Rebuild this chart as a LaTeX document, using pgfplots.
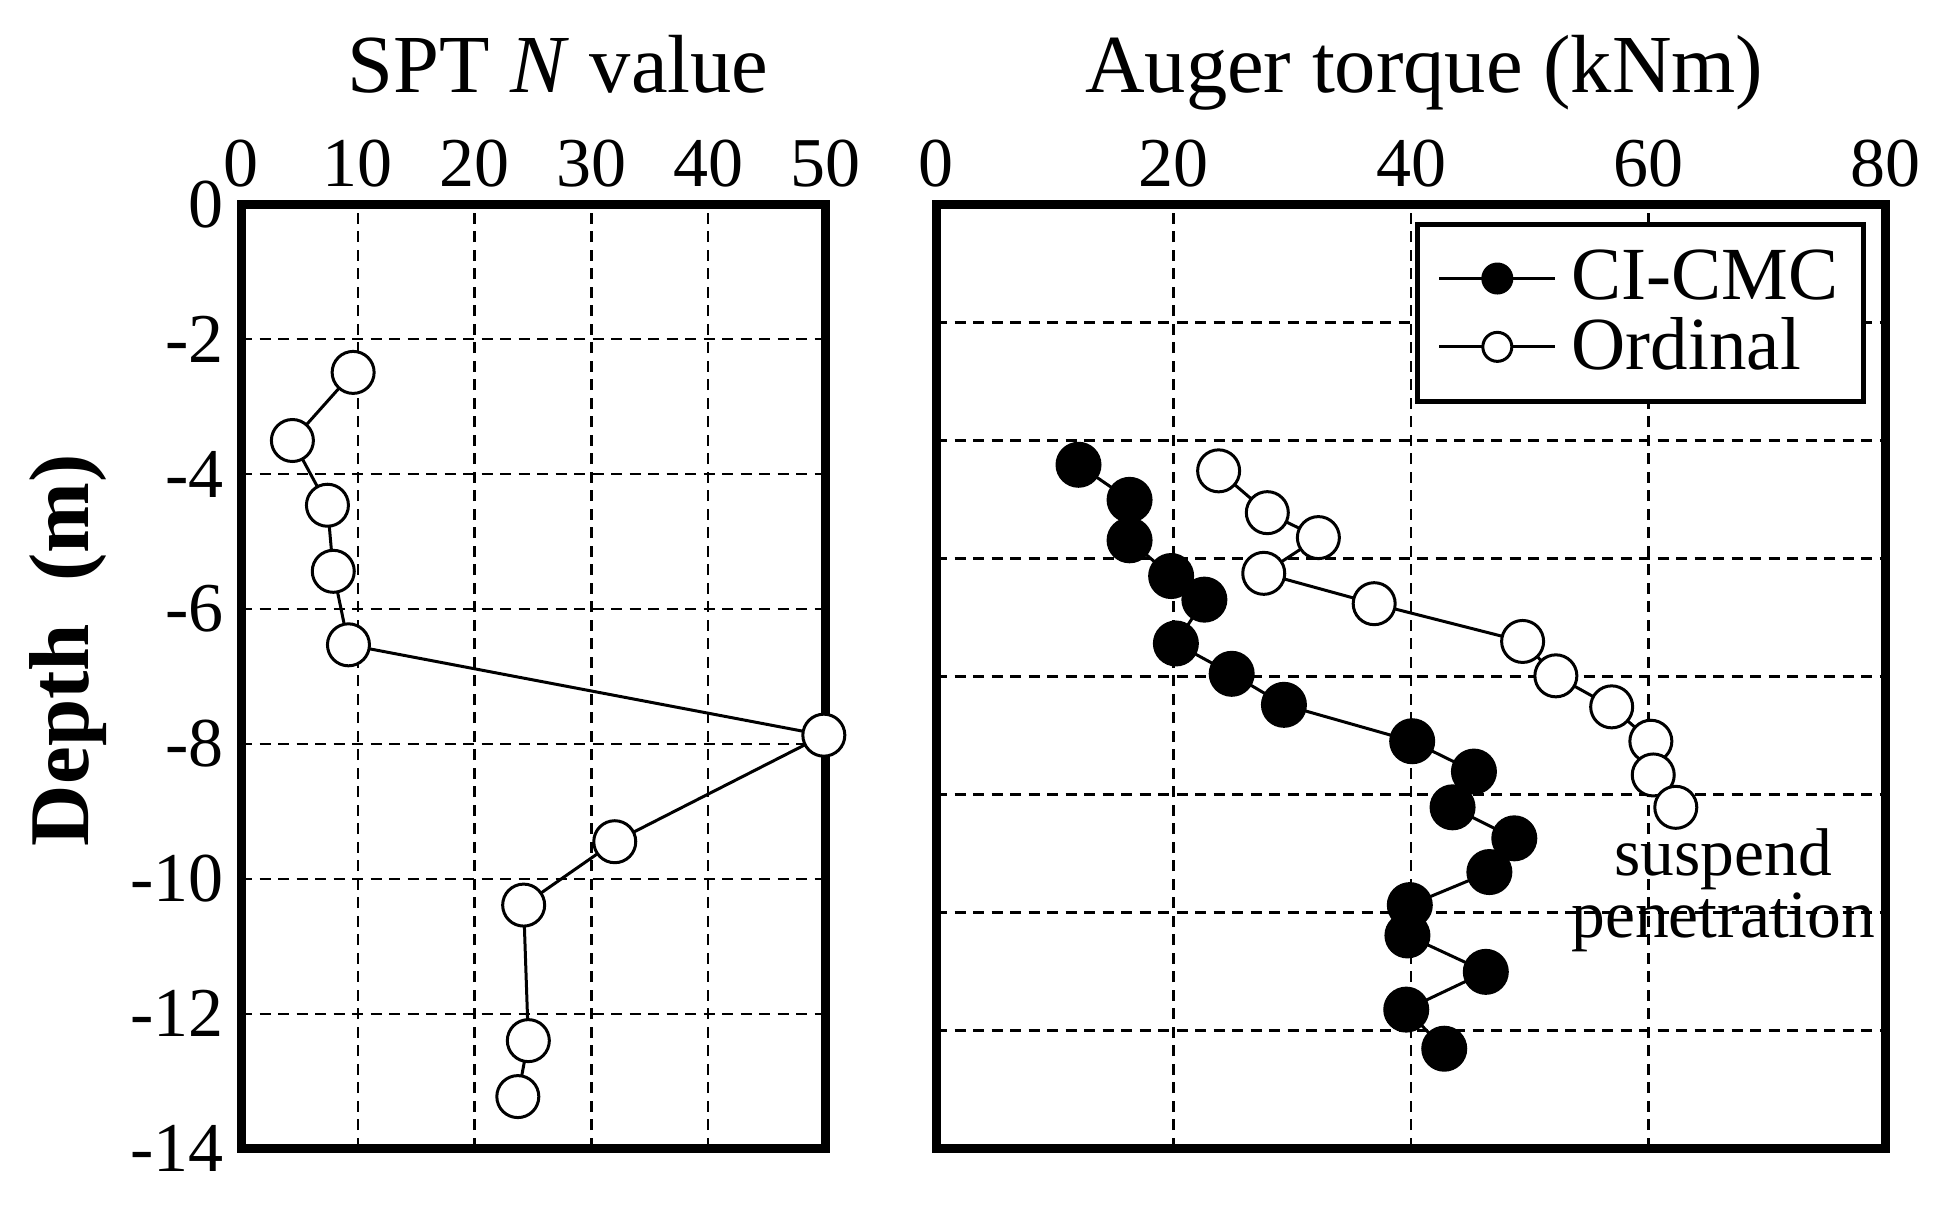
\documentclass[border=0pt]{standalone}
\usepackage{fontspec}
\setmainfont{Liberation Serif}
\usepackage{pgfplots}
\pgfplotsset{compat=1.18}

\begin{document}
\begin{tikzpicture}
\path[use as bounding box] (0,0) rectangle (387.2pt,244pt);
\pgfplotsset{
  depthax/.style={
    scale only axis, clip=false,
    height=188.8pt,
    ymin=-14, ymax=0,
    axis line style={line width=1.8pt, line join=miter},
    major tick length=0pt,
    xticklabel pos=upper,
    grid=major,
    major grid style={line width=0.45pt, black, dash pattern=on 2.2pt off 1.5pt},
    ticklabel style={font=\fontsize{14}{16}\selectfont},
    title style={font=\fontsize{16.5}{19}\selectfont, anchor=base},
    legend image code/.code={\draw[##1, mark size=2.9pt, mark repeat=2, mark phase=2]
      plot coordinates {(0pt,0pt) (11.6pt,0pt) (23.2pt,0pt)};},
  },
}
% SPT N value
\begin{axis}[depthax,
  at={(48.2pt,14.3pt)}, anchor=south west,
  width=116.8pt,
  xmin=0, xmax=50,
  xtick={0,10,20,30,40,50},
  xticklabels={0,10,20,30,40,50},
  ytick={-14,-12,-10,-8,-6,-4,-2,0},
  yticklabels={-14,-12,-10,-8,-6,-4,-2,0},
  title={SPT \textit{N} value},
  title style={at={(axis description cs:0.543,1)}, yshift=16.4pt},
  ylabel={\textbf{Depth\ \ (m)}},
  ylabel style={at={(axis description cs:-0.296,0.528)}, anchor=center,
    font=\fontsize{17}{20}\selectfont},
]
\addplot[black, line width=0.6pt, mark=*, mark size=4.2pt, mark options={fill=white}]
  coordinates {
  (9.6,-2.49) (4.4,-3.5) (7.4,-4.46) (7.9,-5.44) (9.2,-6.53)
  (49.9,-7.87) (32.0,-9.45) (24.2,-10.39) (24.6,-12.4) (23.7,-13.23)
};
\end{axis}
% Auger torque
\begin{axis}[depthax,
  at={(187.2pt,14.3pt)}, anchor=south west,
  width=190pt,
  xmin=0, xmax=80,
  xtick={0,20,40,60,80},
  xticklabels={0,20,40,60,80},
  ytick={-12.25,-10.5,-8.75,-7,-5.25,-3.5,-1.75},
  yticklabels={},
  title={Auger torque (kNm)},
  title style={at={(axis description cs:0.514,1)}, yshift=16.4pt},
  legend style={at={(axis description cs:0.979,0.981)}, anchor=north east,
    draw=black, line width=1pt, font=\fontsize{15}{16}\selectfont,
    inner xsep=4pt, inner ysep=4pt, row sep=0pt,
    nodes={inner sep=1pt}},
  legend cell align=left,
]
\addplot[black, line width=0.6pt, mark=*, mark size=4.3pt, mark options={fill=black}]
  coordinates {
  (12.0,-3.86) (16.3,-4.38) (16.3,-4.98) (19.8,-5.51) (22.6,-5.86)
  (20.2,-6.51) (24.9,-6.96) (29.3,-7.42) (40.1,-7.96) (45.3,-8.41)
  (43.5,-8.94) (48.7,-9.40) (46.6,-9.90) (39.9,-10.39) (39.7,-10.84)
  (46.3,-11.38) (39.6,-11.94) (42.8,-12.52)
};
\addlegendentry{\hspace{2pt}CI-CMC}
\addplot[black, line width=0.6pt, mark=*, mark size=4.2pt, mark options={fill=white}]
  coordinates {
  (23.8,-3.95) (27.9,-4.57) (32.2,-4.94) (27.6,-5.47) (36.9,-5.92)
  (49.4,-6.48) (52.2,-6.99) (56.9,-7.45) (60.2,-7.96) (60.4,-8.46)
  (62.3,-8.94)
};
\addlegendentry{\hspace{2pt}Ordinal}
\node[anchor=base, font=\fontsize{13.5}{14}\selectfont, inner sep=0pt]
  at (axis cs:66.3,-9.95) {suspend};
\node[anchor=base, font=\fontsize{13.5}{14}\selectfont, inner sep=0pt]
  at (axis cs:66.3,-10.87) {penetration};
\end{axis}
\end{tikzpicture}
\end{document}
